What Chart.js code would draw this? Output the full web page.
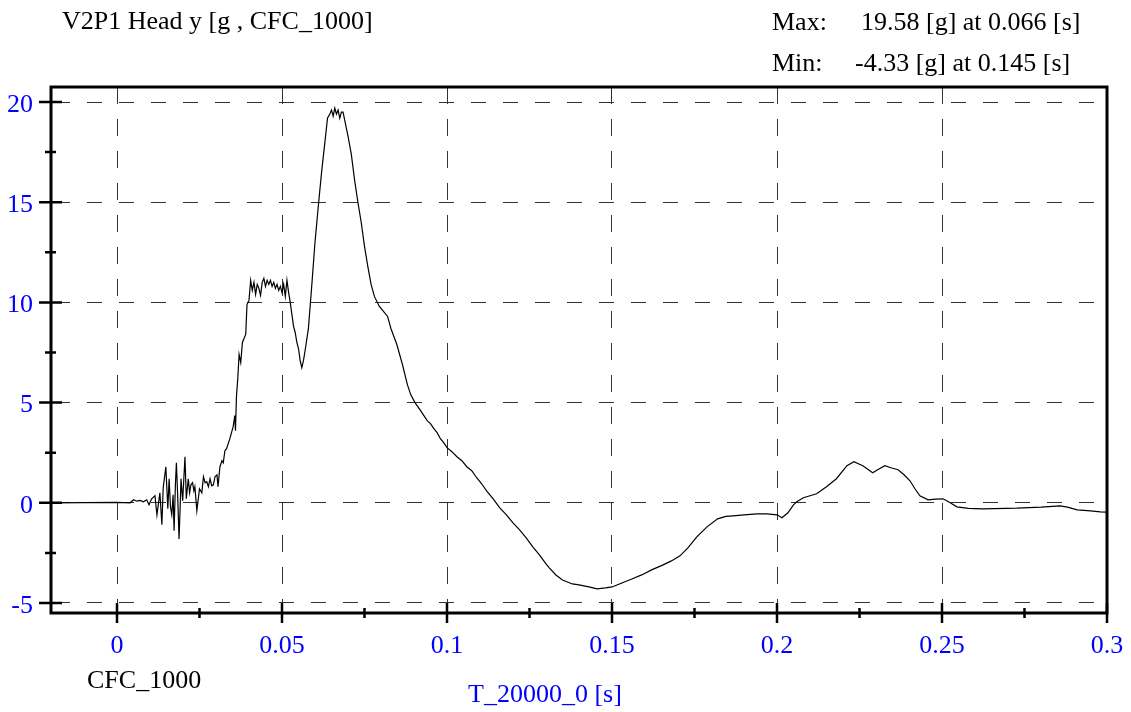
<!DOCTYPE html>
<html>
<head>
<meta charset="utf-8">
<title>V2P1 Head y</title>
<script src="https://cdn.jsdelivr.net/npm/chart.js@4.4.1/dist/chart.umd.min.js"></script>
<style>
    html, body { margin: 0; padding: 0; background: #fff; }
    #grafico { display: block; }
</style>
</head>
<body>
<canvas id="grafico" width="1131" height="712"></canvas>
<script>
// Datos (tiempo en s, aceleracion en g)
const tiempo = [
    -0.02, -0.01, 0, 0.004, 0.005, 0.006, 0.007, 0.008, 0.009, 0.0097,
    0.0105, 0.0115, 0.0121, 0.013, 0.0136, 0.014, 0.0148, 0.0154, 0.0158, 0.0162,
    0.0166, 0.017, 0.0173, 0.0177, 0.018, 0.0184, 0.0188, 0.0191, 0.0194, 0.0199,
    0.0206, 0.021, 0.0216, 0.022, 0.0224, 0.0229, 0.0233, 0.0236, 0.0242, 0.025,
    0.0257, 0.0262, 0.0267, 0.0272, 0.0277, 0.0282, 0.0287, 0.0292, 0.0297, 0.0303,
    0.0306, 0.0312, 0.0318, 0.0322, 0.0327, 0.0332, 0.0337, 0.0342, 0.0347, 0.0352,
    0.0357, 0.0359, 0.0362, 0.0366, 0.037, 0.0375, 0.038, 0.039, 0.0394, 0.04,
    0.0405, 0.041, 0.0415, 0.042, 0.0425, 0.043, 0.0435, 0.044, 0.0445, 0.045,
    0.0455, 0.046, 0.0465, 0.047, 0.0475, 0.048, 0.0485, 0.049, 0.0495, 0.05,
    0.0505, 0.051, 0.0515, 0.052, 0.0525, 0.053, 0.0535, 0.054, 0.0545, 0.055,
    0.0555, 0.056, 0.0565, 0.057, 0.058, 0.059, 0.06, 0.061, 0.062, 0.063,
    0.0638, 0.0645, 0.065, 0.0655, 0.066, 0.0665, 0.067, 0.0675, 0.068, 0.0685,
    0.069, 0.07, 0.071, 0.072, 0.073, 0.074, 0.075, 0.076, 0.077, 0.078,
    0.0795, 0.081, 0.082, 0.083, 0.0848, 0.0865, 0.088, 0.089, 0.0903, 0.092,
    0.094, 0.095, 0.096, 0.097, 0.098, 0.099, 0.1, 0.1015, 0.103, 0.1045,
    0.106, 0.1075, 0.109, 0.1105, 0.112, 0.114, 0.116, 0.118, 0.12, 0.122,
    0.124, 0.126, 0.128, 0.13, 0.131, 0.133, 0.135, 0.138, 0.14, 0.143,
    0.1455, 0.148, 0.15, 0.153, 0.156, 0.159, 0.162, 0.1655, 0.168, 0.1706,
    0.173, 0.1757, 0.1788, 0.182, 0.1845, 0.1867, 0.19, 0.1939, 0.197, 0.2,
    0.2015, 0.2033, 0.205, 0.206, 0.208, 0.21, 0.212, 0.215, 0.218, 0.2212,
    0.2233, 0.226, 0.229, 0.2305, 0.2327, 0.2345, 0.2367, 0.2385, 0.2403, 0.2418,
    0.2433, 0.2458, 0.248, 0.2503, 0.2525, 0.2545, 0.258, 0.2624, 0.2727, 0.28,
    0.2858, 0.288, 0.291, 0.295, 0.298, 0.3
];
const aceleracion = [
    0, 0.01, 0.02, 0, 0.15, 0.08, 0.12, 0.05, 0.15, -0.1,
    0.2, 0.35, -0.6, 0.5, -1.1, 0.75, 1.8, -0.3, 1.2, -0.2,
    -0.6, 0.4, -1.4, 0.9, 2.0, 0.3, -1.8, -0.4, 1.2, 0.1,
    2.3, 0.2, 1.2, 0.5, 0.9, 1.0, 0.6, 0.8, -0.4, 0.7,
    0.5, 1.3, 1.0, 1.05, 0.8, 1.2, 0.85, 0.9, 1.3, 1.4,
    0.8, 1.8, 2.1, 2.0, 2.6, 2.7, 2.95, 3.2, 3.5, 3.8,
    4.35, 3.6, 5.3, 6.2, 7.4, 7.0, 8.0, 8.4, 9.9, 10.1,
    11.1, 10.6, 11.0, 10.4, 10.9, 10.7, 10.35, 11.0, 11.2, 10.8,
    11.1, 10.9, 11.1, 10.8, 11.0, 10.7, 10.9, 10.6, 10.8, 10.5,
    10.9, 10.3, 11.1, 10.5, 10.0, 9.4, 8.8, 8.5, 8.0, 7.7,
    7.1, 6.75, 7.1, 7.6, 8.7, 10.8, 13.0, 14.8, 16.5, 18.0,
    19.2, 19.4, 19.6, 19.3, 19.7, 19.4, 19.6, 19.2, 19.5, 19.5,
    19.1, 18.3, 17.4, 16.1, 15.0, 14.0, 12.8, 11.8, 10.9, 10.3,
    9.8, 9.5, 9.3, 8.7, 7.9, 6.9, 5.9, 5.4, 5.0, 4.6,
    4.1, 3.95, 3.7, 3.5, 3.2, 3.0, 2.75, 2.55, 2.3, 2.1,
    1.8, 1.6, 1.25, 0.95, 0.6, 0.2, -0.25, -0.6, -1.0, -1.35,
    -1.75, -2.2, -2.6, -3.05, -3.25, -3.6, -3.85, -4.05, -4.1, -4.2,
    -4.3, -4.25, -4.2, -4.0, -3.8, -3.6, -3.35, -3.1, -2.9, -2.65,
    -2.25, -1.7, -1.2, -0.8, -0.68, -0.65, -0.6, -0.55, -0.55, -0.6,
    -0.75, -0.5, -0.1, 0.05, 0.25, 0.35, 0.45, 0.8, 1.2, 1.85,
    2.05, 1.85, 1.5, 1.65, 1.85, 1.75, 1.65, 1.4, 1.1, 0.7,
    0.35, 0.15, 0.18, 0.2, 0.0, -0.2, -0.28, -0.3, -0.27, -0.22,
    -0.15, -0.22, -0.35, -0.4, -0.45, -0.47
];

const marcasX = [0, 0.05, 0.1, 0.15, 0.2, 0.25, 0.3];
const marcasXmenores = [0.025, 0.075, 0.125, 0.175, 0.225, 0.275];
const marcasY = [-5, 0, 5, 10, 15, 20];
const marcasYmenores = [-2.5, 2.5, 7.5, 12.5, 17.5];

const titulo = 'V2P1 Head y [g , CFC_1000]';
const textoMax = ['Max:', '19.58 [g] at 0.066 [s]'];
const textoMin = ['Min:', '-4.33 [g] at 0.145 [s]'];
const filtro = 'CFC_1000';
const tituloX = 'T_20000_0 [s]';

const fuente = '"Liberation Serif", "Times New Roman", serif';
const azul = '#0000ff';

function esMarca(valor, marcas) {
    return marcas.some(m => Math.abs(m - valor) < 1e-9);
}

// marco, marcas de los ejes y textos sueltos
const pluginMarco = {
    id: 'marco',
    afterDraw(chart) {
        const ctx = chart.ctx;
        const area = chart.chartArea;
        const ejeX = chart.scales.x;
        const ejeY = chart.scales.y;

        ctx.save();
        ctx.strokeStyle = '#000';
        ctx.lineWidth = 3;
        ctx.strokeRect(area.left, area.top, area.right - area.left, area.bottom - area.top);

        ctx.lineWidth = 2.5;
        ctx.beginPath();
        marcasY.forEach(v => {
            const y = ejeY.getPixelForValue(v);
            ctx.moveTo(area.left - 12, y);
            ctx.lineTo(area.left + 11, y);
        });
        marcasYmenores.forEach(v => {
            const y = ejeY.getPixelForValue(v);
            ctx.moveTo(area.left - 6, y);
            ctx.lineTo(area.left + 5, y);
        });
        marcasX.forEach(v => {
            const x = ejeX.getPixelForValue(v);
            ctx.moveTo(x, area.bottom - 10);
            ctx.lineTo(x, area.bottom + 10);
        });
        marcasXmenores.forEach(v => {
            const x = ejeX.getPixelForValue(v);
            ctx.moveTo(x, area.bottom - 5);
            ctx.lineTo(x, area.bottom + 5);
        });
        ctx.stroke();

        ctx.font = '26px ' + fuente;
        ctx.textBaseline = 'alphabetic';
        ctx.textAlign = 'left';
        ctx.fillStyle = '#000';
        ctx.fillText(titulo, 62, 29);
        ctx.fillText(textoMax[0], 772, 30);
        ctx.fillText(textoMax[1], 861, 30);
        ctx.fillText(textoMin[0], 772, 71);
        ctx.fillText(textoMin[1], 855, 71);
        ctx.fillText(filtro, 87, 688);
        ctx.fillStyle = azul;
        ctx.fillText(tituloX, 468, 702);
        ctx.restore();
    }
};

function crearGrafico() {
    const ctx = document.getElementById('grafico').getContext('2d');
    const puntos = tiempo.map((t, i) => ({ x: t, y: aceleracion[i] }));

    new Chart(ctx, {
        type: 'line',
        data: {
            datasets: [{
                label: titulo,
                data: puntos,
                borderColor: '#000',
                borderWidth: 1.2,
                pointRadius: 0,
                tension: 0,
                fill: false
            }]
        },
        options: {
            responsive: false,
            animation: false,
            devicePixelRatio: 1,
            layout: { padding: { top: 87, right: 24, left: 0, bottom: 0 } },
            plugins: {
                legend: { display: false },
                tooltip: { enabled: false },
                title: { display: false }
            },
            scales: {
                x: {
                    type: 'linear',
                    min: -0.02,
                    max: 0.3,
                    afterBuildTicks: eje => {
                        eje.ticks = marcasX.concat(marcasXmenores)
                            .sort((a, b) => a - b)
                            .map(v => ({ value: v }));
                    },
                    afterFit: eje => {
                        eje.height = 99;
                        eje.paddingLeft = 0;
                        eje.paddingRight = 0;
                    },
                    ticks: {
                        autoSkip: false,
                        maxRotation: 0,
                        padding: 18,
                        color: azul,
                        font: { family: fuente, size: 26 },
                        callback: v => esMarca(v, marcasX) ? String(v) : ''
                    },
                    grid: {
                        drawTicks: false,
                        lineWidth: 1,
                        color: c => (c.tick && esMarca(c.tick.value, marcasX)) ? '#333' : 'rgba(0,0,0,0)'
                    },
                    border: { display: false, dash: [17, 15], dashOffset: 0 }
                },
                y: {
                    type: 'linear',
                    min: -5.5,
                    max: 20.75,
                    afterBuildTicks: eje => {
                        eje.ticks = marcasY.concat(marcasYmenores)
                            .sort((a, b) => a - b)
                            .map(v => ({ value: v }));
                    },
                    afterFit: eje => {
                        eje.width = 51;
                        eje.paddingTop = 0;
                        eje.paddingBottom = 0;
                    },
                    ticks: {
                        autoSkip: false,
                        padding: 18,
                        labelOffset: 3,
                        color: azul,
                        font: { family: fuente, size: 26 },
                        callback: v => esMarca(v, marcasY) ? String(v) : ''
                    },
                    grid: {
                        drawTicks: false,
                        lineWidth: 1,
                        color: c => (c.tick && esMarca(c.tick.value, marcasY)) ? '#333' : 'rgba(0,0,0,0)'
                    },
                    border: { display: false, dash: [15, 17], dashOffset: 28 }
                }
            }
        },
        plugins: [pluginMarco]
    });
}

crearGrafico();
</script>
</body>
</html>
